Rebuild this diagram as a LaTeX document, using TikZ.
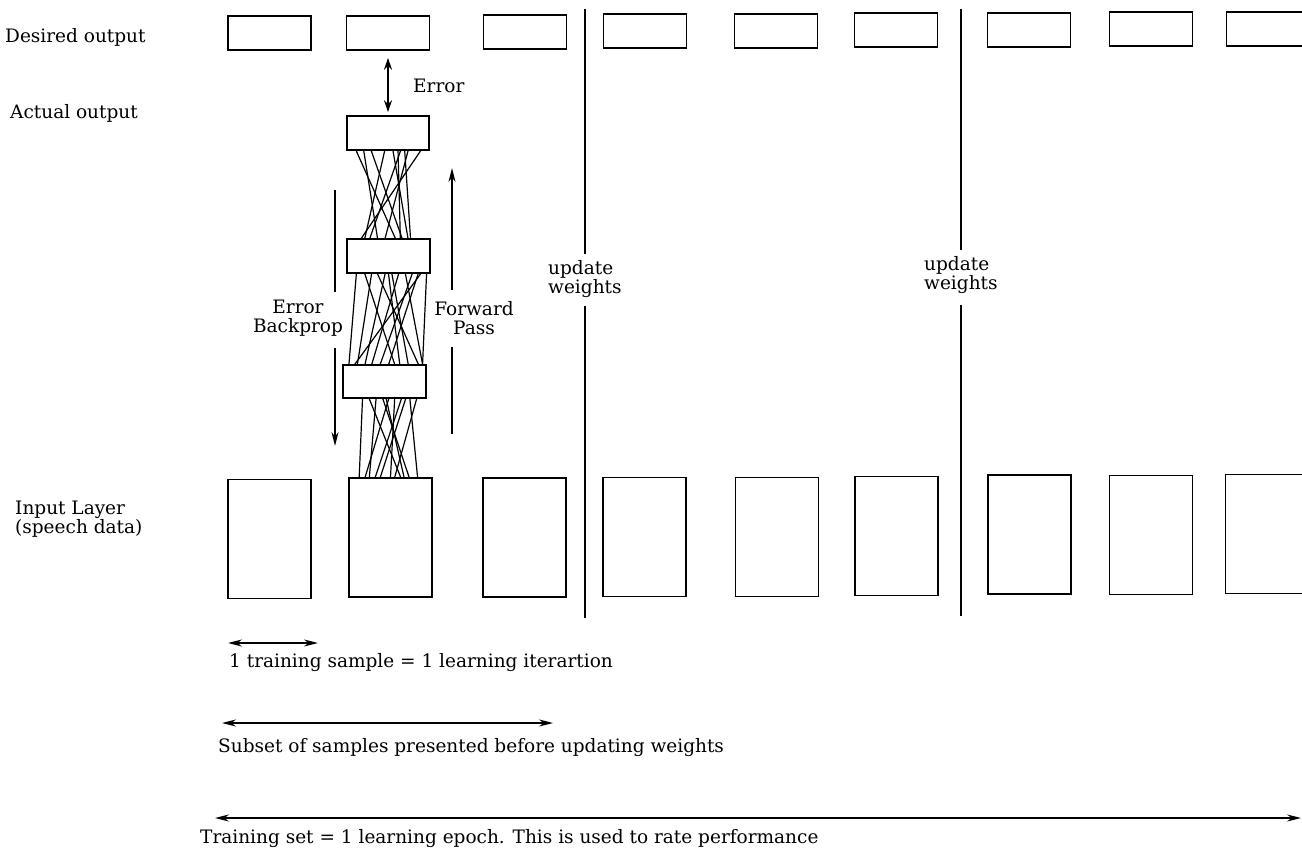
\documentclass[tikz,border=0pt]{standalone}
\usepackage{fontspec}
\setmainfont{DejaVu Serif}
\usetikzlibrary{arrows.meta,calc}

\tikzset{
  lbl/.style={font=\fontsize{18.5}{19}\selectfont, inner sep=0pt},
  outbox/.style={draw, line width=1.6pt, minimum width=83pt, minimum height=34pt, inner sep=0pt},
  inbox/.style={draw, line width=1.6pt, minimum width=83pt, minimum height=119pt, inner sep=0pt},
  link/.style={line width=1.2pt},
  sep/.style={line width=2pt},
  flow/.style={line width=1.6pt, -{Stealth[length=14pt,width=7pt]}},
  dbl/.style={line width=1.6pt, {Stealth[length=12pt,width=8pt]}-{Stealth[length=12pt,width=8pt]}},
  span/.style={line width=1.5pt, {Stealth[length=14pt,width=7pt]}-{Stealth[length=14pt,width=7pt]}}
}

\begin{document}
\begin{tikzpicture}[x=1pt,y=-1pt]
\useasboundingbox (0,0) rectangle (1302,850);
\fill[white] (0,0) rectangle (1302,850);

% row labels
\node[lbl, anchor=base west] (ldes) at (5,43) {Desired output};
\node[lbl, anchor=base west] (lact) at (10,119) {Actual output};
\node[lbl, anchor=base west, align=left] (linp) at (15,533) {Input Layer\\(speech data)};

% desired output row
\node[outbox] (d1) at (269.5,33) {};
\node[outbox] (d2) at (388,33) {};
\node[outbox] (d3) at (525,32) {};
\node[outbox] (d4) at (645,31) {};
\node[outbox] (d5) at (776,31) {};
\node[outbox] (d6) at (896,30) {};
\node[outbox] (d7) at (1029,30) {};
\node[outbox] (d8) at (1151,29) {};
\node[outbox] (d9) at (1268,29) {};

% input layer row
\node[inbox] (i1) at (269.5,539) {};
\node[inbox] (i2) at (390.5,537.5) {};
\node[inbox] (i3) at (524.5,537.5) {};
\node[inbox] (i4) at (644.5,537) {};
\node[inbox] (i5) at (777,537) {};
\node[inbox] (i6) at (896.5,536) {};
\node[inbox] (i7) at (1029.5,534.5) {};
\node[inbox] (i8) at (1151,535) {};
\node[inbox] (i9) at (1267,534) {};

% network layers
\node[outbox, minimum width=82pt] (a) at (388,133) {};
\node[outbox] (h1) at (388.5,256) {};
\node[outbox, minimum height=33pt] (h2) at (384.5,381.5) {};

% weights: output layer to first hidden layer
\foreach \p/\q in {0.12/0.58, 0.21/0.37, 0.30/0.66, 0.46/0.22, 0.56/0.73,
                   0.65/0.28, 0.74/0.46, 0.89/0.18, 0.70/0.76, 0.62/0.64}
  \draw[link] ($(a.south west)!\p!(a.south east)$) -- ($(h1.north west)!\q!(h1.north east)$);

% weights: first hidden layer to second hidden layer
\foreach \p/\q in {0.12/0.08, 0.22/0.62, 0.30/0.18, 0.37/0.90, 0.46/0.27,
                   0.54/0.78, 0.62/0.35, 0.70/0.95, 0.78/0.45, 0.88/0.15,
                   0.50/0.68, 0.85/0.55, 0.95/0.95}
  \draw[link] ($(h1.south west)!\p!(h1.south east)$) -- ($(h2.north west)!\q!(h2.north east)$);

% weights: second hidden layer to input layer
\foreach \p/\q in {0.24/0.13, 0.32/0.62, 0.40/0.25, 0.48/0.72, 0.55/0.20,
                   0.62/0.50, 0.70/0.32, 0.80/0.82, 0.88/0.55, 0.52/0.66, 0.75/0.38}
  \draw[link] ($(h2.south west)!\p!(h2.south east)$) -- ($(i2.north west)!\q!(i2.north east)$);

% error between desired and actual output
\draw[dbl, shorten <=7pt, shorten >=3pt] (d2.south) -- (a.north);
\node[lbl, anchor=base west] (err) at (413,93) {Error};

% error backpropagation (downwards)
\node[lbl, align=center] (bp) at (298,318) {Error\\Backprop};
\coordinate (bp1) at (335,190);
\coordinate (bp2) at (335,292);
\coordinate (bp3) at (335,348);
\coordinate (bp4) at (335,446);
\draw[line width=1.6pt] (bp1) -- (bp2);
\draw[flow] (bp3) -- (bp4);

% forward pass (upwards)
\node[lbl, align=center] (fp) at (474,318) {Forward\\Pass};
\coordinate (fp1) at (452,434);
\coordinate (fp2) at (452,347);
\coordinate (fp3) at (452,290);
\coordinate (fp4) at (452,168);
\draw[line width=1.6pt] (fp1) -- (fp2);
\draw[flow] (fp3) -- (fp4);

% weight update boundaries
\node[lbl, align=left, anchor=west] (uw1) at (548,279) {update\\weights};
\node[lbl, align=left, anchor=west] (uw2) at (924,275) {update\\weights};
\coordinate (s1a) at (585,9);
\coordinate (s1b) at (585,254);
\coordinate (s1c) at (585,306);
\coordinate (s1d) at (585,618);
\coordinate (s2a) at (961,9);
\coordinate (s2b) at (961,250);
\coordinate (s2c) at (961,305);
\coordinate (s2d) at (961,616);
\draw[sep] (s1a) -- (s1b);
\draw[sep] (s1c) -- (s1d);
\draw[sep] (s2a) -- (s2b);
\draw[sep] (s2c) -- (s2d);

% spans along the bottom
\coordinate (r1a) at (228,643);
\coordinate (r1b) at (318,643);
\draw[span] (r1a) -- (r1b);
\node[lbl, anchor=base west] (t1) at (229,667) {1 training sample = 1 learning iterartion};

\coordinate (r2a) at (222,723);
\coordinate (r2b) at (553,723);
\draw[span] (r2a) -- (r2b);
\node[lbl, anchor=base west] (t2) at (218,752) {Subset of samples presented before updating weights};

\coordinate (r3a) at (215,818);
\coordinate (r3b) at (1301,818);
\draw[span] (r3a) -- (r3b);
\node[lbl, anchor=base west] (t3) at (200,843) {Training set = 1 learning epoch. This is used to rate performance};
\end{tikzpicture}
\end{document}
